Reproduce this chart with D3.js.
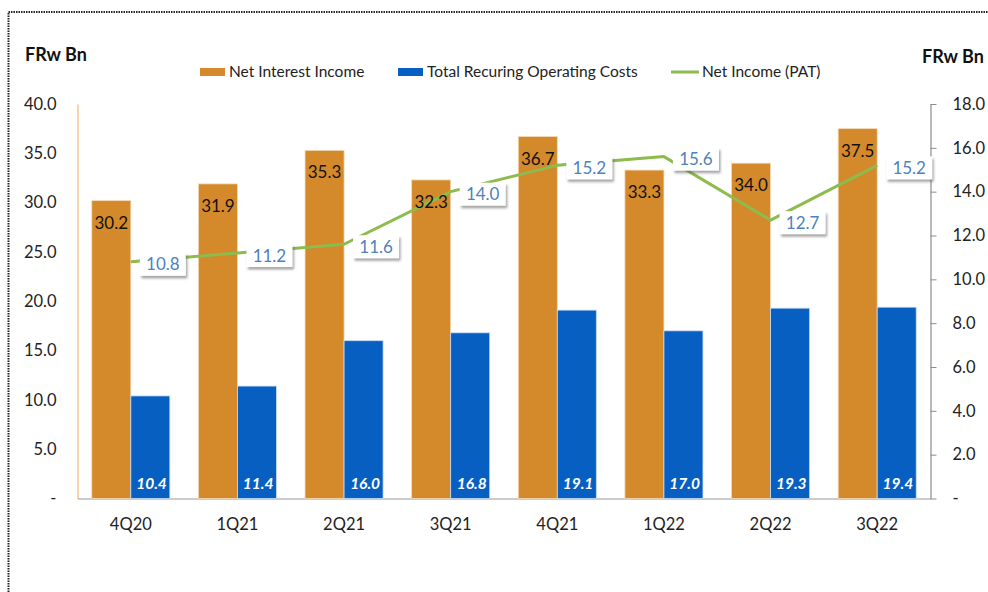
<!DOCTYPE html>
<html lang="en">
    <head>
        <meta charset="utf-8">
        <title>Quarterly income and costs</title>
        <script type="text/javascript" src="https://cdn.jsdelivr.net/npm/d3@7"></script>
        <style>
            body { margin: 0; background: #fff; }
            text { font-family: Lato, "Open Sans", sans-serif; }
        </style>
    </head>
    <body>
        <script type="text/javascript">

            //Chart data
            var quarters = ["4Q20", "1Q21", "2Q21", "3Q21", "4Q21", "1Q22", "2Q22", "3Q22"];
            var netInterestIncome = [30.2, 31.9, 35.3, 32.3, 36.7, 33.3, 34.0, 37.5];
            var operatingCosts = [10.4, 11.4, 16.0, 16.8, 19.1, 17.0, 19.3, 19.4];
            var netIncome = [10.8, 11.2, 11.6, 14.0, 15.2, 15.6, 12.7, 15.2];
            var leftTicks = [0, 5, 10, 15, 20, 25, 30, 35, 40];
            var rightTicks = [0, 2, 4, 6, 8, 10, 12, 14, 16, 18];
            var seriesNames = ["Net Interest Income", "Total Recuring Operating Costs", "Net Income (PAT)"];

            //Width and height
            var w = 988;
            var h = 592;
            var plotLeft = 77.5, plotRight = 930.5, plotTop = 104, plotBottom = 498.5;

            var orange = "#d4892a";
            var blue = "#075fc2";
            var green = "#8dbb4e";
            var labelBlue = "#4f81bd";

            var svg = d3.select("body")
                        .append("svg")
                        .attr("width", w)
                        .attr("height", h);

            //Drop shadow for the line labels
            svg.append("defs")
                .append("filter")
                .attr("id", "shadow")
                .attr("x", "-20%").attr("y", "-20%")
                .attr("width", "150%").attr("height", "160%")
                .append("feDropShadow")
                .attr("dx", 1.5)
                .attr("dy", 2.5)
                .attr("stdDeviation", 1.2)
                .attr("flood-color", "#555")
                .attr("flood-opacity", 0.55);

            //Dotted frame
            svg.append("rect")
                .attr("x", 8.5)
                .attr("y", 12)
                .attr("width", 1000)
                .attr("height", 700)
                .attr("fill", "none")
                .attr("stroke", "#222")
                .attr("stroke-width", 2)
                .attr("stroke-dasharray", "1.5,1");

            //Scales
            var xScale = d3.scaleBand()
                            .domain(quarters)
                            .range([plotLeft, plotRight])
                            .paddingInner(0.268)
                            .paddingOuter(0.134);

            var xInner = d3.scaleBand()
                            .domain(["nii", "cost"])
                            .range([0, xScale.bandwidth()]);

            var yLeft = d3.scaleLinear()
                            .domain([0, 40])
                            .range([plotBottom, plotTop]);

            var yRight = d3.scaleLinear()
                            .domain([0, 18])
                            .range([plotBottom, plotTop]);

            var fmt = d3.format(".1f");
            var tickFmt = function(d) { return d === 0 ? "-" : fmt(d); };
            var center = function(q) { return xScale(q) + xScale.bandwidth() / 2; };

            //Left axis: no ticks, peach line
            var leftAxis = svg.append("g")
                .attr("transform", "translate(" + plotLeft + ",0)")
                .call(d3.axisLeft(yLeft).tickValues(leftTicks).tickFormat(tickFmt).tickSize(0).tickPadding(21));
            leftAxis.select(".domain").attr("stroke", "#f7c48f").attr("stroke-width", 1.5);
            leftAxis.selectAll("text")
                .attr("font-size", "16.5px")
                .attr("fill", "#222")
                .attr("font-family", "Lato, sans-serif");

            //Right axis: grey line, ticks pointing out
            var rightAxis = svg.append("g")
                .attr("transform", "translate(" + plotRight + ",0)")
                .call(d3.axisRight(yRight).tickValues(rightTicks).tickFormat(tickFmt).tickSize(6).tickSizeOuter(0).tickPadding(16));
            rightAxis.select(".domain").attr("stroke", "#8c8c8c").attr("stroke-width", 1.2);
            rightAxis.selectAll(".tick line").attr("stroke", "#8c8c8c");
            rightAxis.selectAll("text")
                .attr("font-size", "16.5px")
                .attr("fill", "#222")
                .attr("font-family", "Lato, sans-serif");

            //Bottom axis: category labels
            var bottomAxis = svg.append("g")
                .attr("transform", "translate(0," + plotBottom + ")")
                .call(d3.axisBottom(xScale).tickSize(0).tickPadding(20));
            bottomAxis.select(".domain").attr("stroke", "#9a9a9a").attr("stroke-width", 1.2);
            bottomAxis.selectAll("text")
                .attr("font-size", "16.5px")
                .attr("fill", "#222")
                .attr("font-family", "Lato, sans-serif");

            //Net interest income bars
            svg.selectAll("rect.nii")
                .data(netInterestIncome)
                .enter()
                .append("rect")
                .attr("class", "nii")
                .attr("x", function(d, i) { return xScale(quarters[i]) + xInner("nii"); })
                .attr("y", function(d) { return yLeft(d); })
                .attr("width", xInner.bandwidth())
                .attr("height", function(d) { return plotBottom - yLeft(d); })
                .attr("fill", orange)
                .attr("stroke", "#f3d9b8")
                .attr("stroke-width", 0.8);

            //Operating cost bars
            svg.selectAll("rect.cost")
                .data(operatingCosts)
                .enter()
                .append("rect")
                .attr("class", "cost")
                .attr("x", function(d, i) { return xScale(quarters[i]) + xInner("cost"); })
                .attr("y", function(d) { return yLeft(d); })
                .attr("width", xInner.bandwidth())
                .attr("height", function(d) { return plotBottom - yLeft(d); })
                .attr("fill", blue)
                .attr("stroke", "#c9dcf3")
                .attr("stroke-width", 0.8);

            //Labels at the foot of the blue bars
            svg.selectAll("text.cost")
                .data(operatingCosts)
                .enter()
                .append("text")
                .attr("class", "cost")
                .text(function(d) { return fmt(d); })
                .attr("x", function(d, i) { return xScale(quarters[i]) + xInner("cost") + xInner.bandwidth() - 3; })
                .attr("y", plotBottom - 10)
                .attr("text-anchor", "end")
                .attr("font-size", "15.5px")
                .attr("font-style", "italic")
                .attr("font-weight", "bold")
                .attr("fill", "#fff");

            //Net income line
            var line = d3.line()
                        .x(function(d, i) { return center(quarters[i]); })
                        .y(function(d) { return yRight(d); });

            svg.append("path")
                .datum(netIncome)
                .attr("d", line)
                .attr("fill", "none")
                .attr("stroke", green)
                .attr("stroke-width", 3)
                .attr("stroke-linejoin", "round");

            //Labels inside the orange bars, drawn over the line
            svg.selectAll("text.nii")
                .data(netInterestIncome)
                .enter()
                .append("text")
                .attr("class", "nii")
                .text(function(d) { return fmt(d); })
                .attr("x", function(d, i) { return xScale(quarters[i]) + xInner("nii") + xInner.bandwidth() / 2; })
                .attr("y", function(d) { return yLeft(d) + 28; })
                .attr("text-anchor", "middle")
                .attr("font-size", "17px")
                .attr("fill", "#111");

            //Boxed labels for the line
            var tags = svg.selectAll("g.tag")
                .data(netIncome)
                .enter()
                .append("g")
                .attr("class", "tag")
                .attr("transform", function(d, i) {
                    return "translate(" + (center(quarters[i]) + 9) + "," + (yRight(d) + 3) + ")";
                });

            tags.append("rect")
                .attr("x", 0)
                .attr("y", -12)
                .attr("width", 46)
                .attr("height", 23)
                .attr("fill", "#fff")
                .attr("filter", "url(#shadow)");

            tags.append("text")
                .text(function(d) { return fmt(d); })
                .attr("x", 23)
                .attr("y", 5.5)
                .attr("text-anchor", "middle")
                .attr("font-size", "17px")
                .attr("fill", labelBlue);

            //Unit titles
            svg.append("text")
                .text("FRw Bn")
                .attr("x", 25)
                .attr("y", 61)
                .attr("font-size", "18px")
                .attr("font-weight", "bold")
                .attr("fill", "#111");

            svg.append("text")
                .text("FRw Bn")
                .attr("x", 922)
                .attr("y", 63)
                .attr("font-size", "18px")
                .attr("font-weight", "bold")
                .attr("fill", "#111");

            //Legend
            var legendX = [200, 398, 671];
            var legend = svg.selectAll("g.legend")
                .data(seriesNames)
                .enter()
                .append("g")
                .attr("class", "legend")
                .attr("transform", function(d, i) { return "translate(" + legendX[i] + ",72)"; });

            legend.filter(function(d, i) { return i < 2; })
                .append("rect")
                .attr("x", 0)
                .attr("y", -4)
                .attr("width", 25)
                .attr("height", 8)
                .attr("fill", function(d, i) { return i === 0 ? orange : blue; });

            legend.filter(function(d, i) { return i === 2; })
                .append("line")
                .attr("x1", 0)
                .attr("x2", 28)
                .attr("y1", 0)
                .attr("y2", 0)
                .attr("stroke", green)
                .attr("stroke-width", 3);

            legend.append("text")
                .text(function(d) { return d; })
                .attr("x", function(d, i) { return i === 2 ? 31 : 29; })
                .attr("y", 5)
                .attr("font-size", "15.5px")
                .attr("fill", "#222");

        </script>
    </body>
</html>
